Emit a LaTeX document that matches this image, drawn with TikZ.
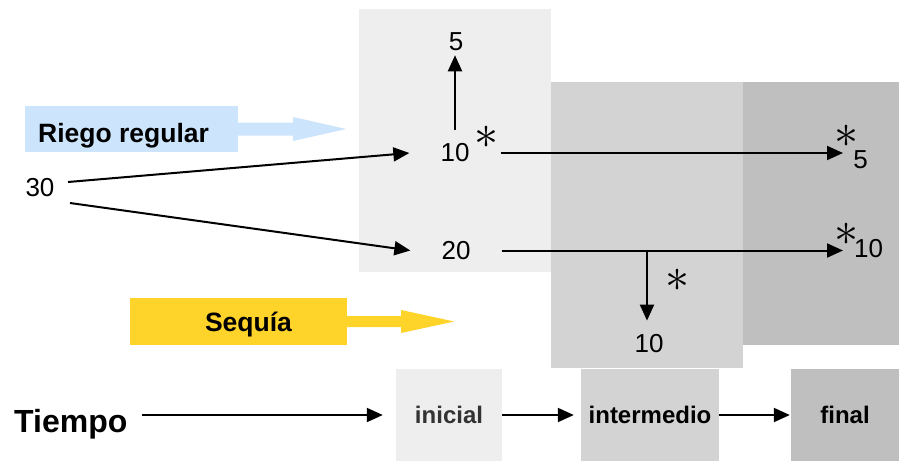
\documentclass[tikz,border=0pt]{standalone}
\usepackage{fontspec}
\setmainfont{Liberation Sans}
\usepackage{graphicx}
\usetikzlibrary{arrows.meta}
\definecolor{panelA}{HTML}{EEEEEE}
\definecolor{panelB}{HTML}{D3D3D3}
\definecolor{panelC}{HTML}{BFBFBF}
\definecolor{blueA}{HTML}{CCE5FD}
\definecolor{yellowA}{HTML}{FFD42A}
\definecolor{darktext}{HTML}{333333}
\newcommand{\bigast}{\scalebox{4.8}{$\ast$}}
\begin{document}
\begin{tikzpicture}[x=1pt,y=-1pt,
  numtxt/.style={inner sep=0pt, font=\fontsize{26}{26}\selectfont},
  asttxt/.style={inner sep=0pt},
  conn/.style={line width=2pt, -{Triangle[length=16pt,width=14pt]}},
  timebox/.style={minimum height=92pt, inner sep=0pt, font=\fontsize{24}{24}\selectfont\bfseries},
  labelbox/.style={inner sep=0pt, minimum height=46pt},
  boldtxt/.style={anchor=base, inner sep=0pt, font=\fontsize{26.5}{26.5}\selectfont\bfseries}
]
\useasboundingbox (0,0) rectangle (899,461);
% background panels
\fill[panelA] (359,9) rectangle (551,272);
\fill[panelB] (551,82) rectangle (743,368);
\fill[panelC] (743,82) rectangle (899,345);

% Riego regular
\node[labelbox, fill=blueA, minimum width=213pt] (rr) at (131.5,129) {};
\node[boldtxt, anchor=base west] (rrt) at (38,142) {Riego regular};
\fill[blueA] (rr.east) ++(0,-6.5) -- ++(55,0) -- ++(0,-5.5) -- ++(53,12) -- ++(-53,12) -- ++(0,-5.5) -- ++(-55,0) -- cycle;

% Sequia
\node[labelbox, fill=yellowA, minimum width=217pt, minimum height=47pt] (sq) at (238.5,321.5) {};
\node[boldtxt] (sqt) at (248.5,331) {Sequía};
\fill[yellowA] (sq.east) ++(0,-5.5) -- ++(54,0) -- ++(0,-6) -- ++(53,11.5) -- ++(-53,11.5) -- ++(0,-6) -- ++(-54,0) -- cycle;

% numbers
\node[numtxt] (n30) at (40,188) {30};
\coordinate (c30a) at (68,182);
\coordinate (c30b) at (70,203);
\node[numtxt, inner xsep=31pt, inner ysep=14pt] (n10a) at (455,153) {10};
\node[numtxt, inner ysep=4pt] (n5t) at (456,42) {5};
\node[numtxt, inner xsep=31pt] (n20) at (456,250.5) {20};
\node[asttxt] (a1) at (486.5,137) {\bigast};
\coordinate (t1) at (843,153);
\node[asttxt] (a2) at (846,136) {\bigast};
\node[numtxt] (n5r) at (860.5,160) {5};
\coordinate (t2) at (843,250.5);
\node[asttxt] (a3) at (846,234.5) {\bigast};
\node[numtxt] (n10r) at (868.5,248.5) {10};
\coordinate (br) at (647,250.5);
\node[asttxt] (a4) at (677.5,280.5) {\bigast};
\node[numtxt, inner ysep=14pt] (n10b) at (649,344) {10};

% connectors
\draw[conn] (c30a) -- (n10a.west);
\draw[conn] (c30b) -- (n20.west);
\draw[conn] (n10a.north) -- (n10a.north |- n5t.south);
\draw[conn] (n10a.east) -- (t1);
\draw[conn] (n20.east) -- (t2);
\draw[conn] (br) -- (br |- n10b.north);

% time line
\node[timebox, fill=panelA, minimum width=106pt, text=darktext] (ini) at (449,415) {inicial};
\node[timebox, fill=panelB, minimum width=138pt] (int) at (650,415) {intermedio};
\node[timebox, fill=panelC, minimum width=108pt] (fin) at (845,415) {final};
\node[anchor=base west, inner sep=0pt, font=\fontsize{32}{32}\selectfont\bfseries] (tiempo) at (14,432) {Tiempo};
\draw[conn, shorten <=14pt, shorten >=13pt] (tiempo.east |- ini.west) -- (ini.west);
\draw[conn, shorten >=7pt] (ini) -- (int);
\draw[conn, shorten >=1pt] (int) -- (fin);
\end{tikzpicture}
\end{document}
